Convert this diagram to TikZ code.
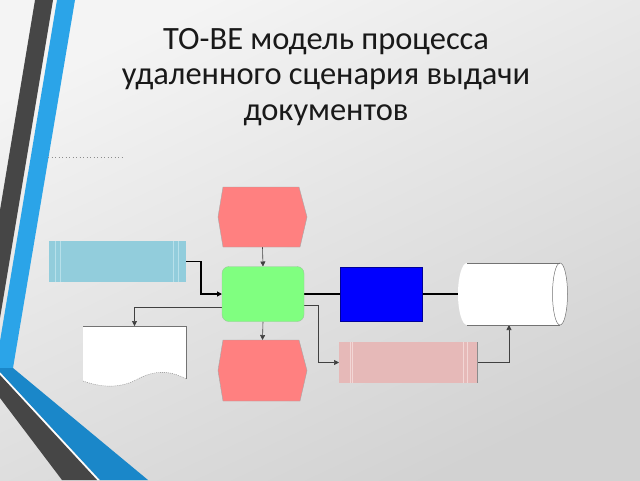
\documentclass[tikz,border=0pt]{standalone}
\usepackage{fontspec}
\setmainfont{Carlito}
\usetikzlibrary{arrows.meta,calc}
\definecolor{bgA}{HTML}{F4F4F4}
\definecolor{bgB}{HTML}{D2D2D2}
\definecolor{bandDark}{HTML}{464646}
\definecolor{bandBlueA}{HTML}{2BA4E8}
\definecolor{bandBlueB}{HTML}{1A87C9}
\definecolor{evfill}{HTML}{FF8080}
\definecolor{fnfill}{HTML}{80FF80}
\definecolor{infofill}{HTML}{92CDDC}
\definecolor{infoline}{HTML}{B7E0EA}
\definecolor{orgfill}{HTML}{0000FF}
\definecolor{pinkfill}{HTML}{E6B9B8}
\definecolor{pinkline}{HTML}{F2D6D5}
\tikzset{
  box/.style={draw=none, inner sep=0pt, outer sep=0pt},
  arr/.style={-{Triangle[length=5pt,width=5pt]}, line width=0.6pt, draw=black!75},
  thickarr/.style={-{Triangle[length=5pt,width=5pt]}, line width=1.1pt, draw=black},
  plain/.style={line width=1.2pt, draw=black},
  titletext/.style={align=center, font=\fontsize{32.5}{35.5}\selectfont, text=black!90}
}
\begin{document}
\begin{tikzpicture}[x=1pt,y=-1pt]
\useasboundingbox (0,0) rectangle (640,480);
% background
\shade[top color=bgA, bottom color=bgB, shading angle=25] (0,0) rectangle (640,480);
% decorative bands
\fill[bandDark] (35,0) -- (53,0) -- (0,318) -- (0,210) -- cycle;
\fill[bandBlueA] (57,0) -- (75,0) -- (13,368) -- (0,368) -- (0,341) -- cycle;
\fill[bandBlueB] (0,368) -- (13,368) -- (148,480) -- (100,480) -- (0,372) -- cycle;
\fill[bandDark] (0,375) -- (97,480) -- (62,480) -- (0,398) -- cycle;
\draw[white, line width=1.2pt] (0,373.5) -- (98.5,480);
% title
\node[titletext] (title) at (326,77) {ТО-ВЕ модель процесса\\удаленного сценария выдачи\\документов};
% faint tiny text marks
\draw[black!45, line width=0.8pt, dash pattern=on 1.2pt off 2.3pt] (48,157) -- (122,157);
% nodes (invisible frames)
\node[box, minimum width=89pt, minimum height=60pt] (ev1) at (262.5,217) {};
\node[box, minimum width=82pt, minimum height=55pt] (fn) at (263,294) {};
\node[box, minimum width=89pt, minimum height=61pt] (ev2) at (262.5,370.5) {};
\node[box, minimum width=137pt, minimum height=41pt] (info) at (117.5,261.5) {};
\node[box, minimum width=103pt, minimum height=54pt] (doc) at (134.5,353) {};
\node[box, minimum width=82pt, minimum height=54pt] (org) at (381,294) {};
\node[box, minimum width=109pt, minimum height=62pt] (db) at (512.5,294) {};
\node[box, minimum width=138pt, minimum height=41pt] (pink) at (408,362.5) {};
% connectors (drawn first, shapes on top)
\draw[arr] (ev1.south) -- (fn.north);
\draw[arr] (fn.south) -- (ev2.north);
\draw[thickarr] (info.east) -- ++(15,0) |- (fn.west);
\draw[arr] ([yshift=-13pt]fn.west) -| (doc.north);
\draw[plain] (fn.east) -- (org.west);
\draw[plain] (org.east) -- (db.west);
\draw[arr] ([yshift=-11pt]fn.east) -- ++(14,0) |- (pink.west);
\draw[arr] (pink.east) -| ([xshift=-3.5pt]db.south);
% event hexagons
\foreach \n in {ev1,ev2}{
  \filldraw[fill=evfill, draw=black!35, line width=0.4pt]
    ($(\n.north west)+(5,0)$) -- ($(\n.north east)+(-8,0)$) -- (\n.east) --
    ($(\n.south east)+(-7,0)$) -- ($(\n.south west)+(5,0)$) -- (\n.west) -- cycle;
}
% function
\filldraw[fill=fnfill, draw=green!45!black!40, line width=0.4pt, rounded corners=7pt]
  (fn.north west) rectangle (fn.south east);
% info carrier (light blue)
\fill[infofill] (info.north west) rectangle (info.south east);
\draw[infoline, line width=0.6pt] (55,241) -- (55,282) (60,241) -- (60,282)
  (173,241) -- (173,282) (178,241) -- (178,282);
% document
\fill[white] (83,326) -- (186,326) -- (186,379)
  .. controls (168,369) and (152,371) .. (136,380)
  .. controls (118,389) and (100,387) .. (83,381) -- cycle;
\draw[black!55, line width=0.5pt] (83,326) -- (186,326) -- (186,379);
\draw[black!50, line width=0.4pt, dash pattern=on 1pt off 1pt] (186,379)
  .. controls (168,369) and (152,371) .. (136,380)
  .. controls (118,389) and (100,387) .. (83,381);
% organisational unit (blue)
\filldraw[fill=orgfill, draw=blue!60!black, line width=0.4pt] (org.north west) rectangle (org.south east);
% cylinder
\fill[white] (467,263) rectangle (560,325);
\fill[white] (467,294) ellipse [x radius=9, y radius=31];
\fill[white] (560,294) ellipse [x radius=7.5, y radius=31];
\draw[black!55, line width=0.5pt] (467,263) -- (560,263) (467,325) -- (560,325);
\draw[black!55, line width=0.5pt] (560,294) ellipse [x radius=7.5, y radius=31];
% pink carrier
\fill[pinkfill] (pink.north west) rectangle (pink.south east);
\draw[pinkline, line width=0.6pt] (350,342) -- (350,383) (352.5,342) -- (352.5,383)
  (463,342) -- (463,383) (467,342) -- (467,383);
\draw[black!45, line width=0.6pt] (pink.north east) -- (pink.south east);
\end{tikzpicture}
\end{document}
